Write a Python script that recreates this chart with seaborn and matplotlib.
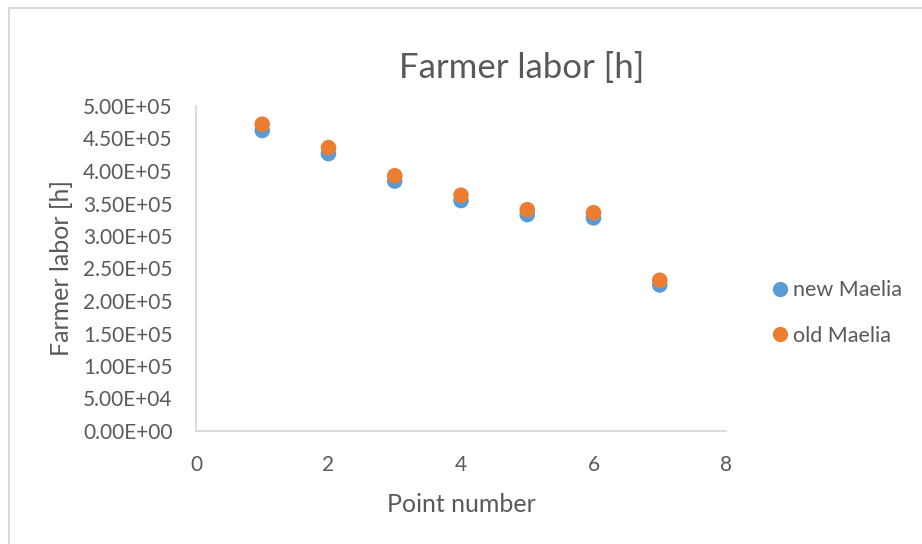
import matplotlib
matplotlib.use("Agg")
import matplotlib.pyplot as plt
from matplotlib.lines import Line2D
import pandas as pd
import seaborn as sns

# Data
point_number = [1, 2, 3, 4, 5, 6, 7]
new_maelia = [462300, 426700, 384500, 354500, 332900, 327800, 224600]
old_maelia = [472000, 436000, 392700, 362800, 340600, 335900, 231900]
series_names = ["new Maelia", "old Maelia"]
y_ticks = [0, 50000, 100000, 150000, 200000, 250000, 300000, 350000, 400000, 450000, 500000]
x_ticks = [0, 2, 4, 6, 8]

df = pd.DataFrame({
    "Point number": point_number * 2,
    "Farmer labor [h]": new_maelia + old_maelia,
    "series": [series_names[0]] * len(point_number) + [series_names[1]] * len(point_number),
})

sns.set_theme(style="white")
plt.rcParams["font.family"] = ["Lato", "DejaVu Sans"]
text_color = "#595959"
palette = {"new Maelia": "#5B9BD5", "old Maelia": "#ED7D31"}

fig = plt.figure(figsize=(9.22, 5.44), dpi=100)
ax = fig.add_axes([196 / 922, 113 / 544, 530 / 922, 325 / 544])

sns.scatterplot(data=df, x="Point number", y="Farmer labor [h]", hue="series",
                palette=palette, s=125, linewidth=0, ax=ax, legend=False)

ax.set_xlim(0, 8)
ax.set_ylim(0, 500000)
ax.set_xticks(x_ticks)
ax.set_yticks(y_ticks)
ax.set_yticklabels([f"{v:.2E}" for v in y_ticks])
ax.tick_params(axis="both", length=0, labelsize=15, colors=text_color)
ax.tick_params(axis="y", pad=17)
ax.tick_params(axis="x", pad=17)

for side in ["top", "right"]:
    ax.spines[side].set_visible(False)
for side in ["left", "bottom"]:
    ax.spines[side].set_color("#D9D9D9")
    ax.spines[side].set_linewidth(1.3)

ax.set_xlabel("Point number", fontsize=18, color=text_color, labelpad=13)
ax.set_ylabel("Farmer labor [h]", fontsize=18, color=text_color, labelpad=7)

fig.text(0.566, 1 - 68 / 544, "Farmer labor [h]", ha="center", va="center",
         fontsize=25, color=text_color)

handles = [Line2D([0], [0], marker="o", linestyle="", markersize=11,
                  markerfacecolor=palette[n], markeredgewidth=0) for n in series_names]
fig.legend(handles, series_names, loc="center left", bbox_to_anchor=(764 / 922, 1 - 313 / 544),
           frameon=False, fontsize=15.5, labelcolor=text_color, handletextpad=-0.15,
           handlelength=1.5, labelspacing=1.2, borderpad=0, borderaxespad=0)

# chart-area border (only top and left visible in the reference)
fig.add_artist(Line2D([9 / 922, 9 / 922], [0, 1 - 8 / 544], transform=fig.transFigure,
                      color="#D9D9D9", linewidth=1.5))
fig.add_artist(Line2D([9 / 922, 1], [1 - 8 / 544, 1 - 8 / 544], transform=fig.transFigure,
                      color="#D9D9D9", linewidth=1.5))

fig.savefig("out.png", dpi=100, facecolor="white")
